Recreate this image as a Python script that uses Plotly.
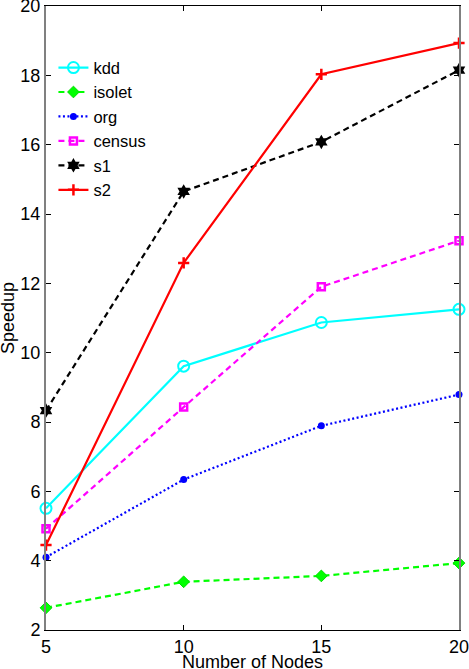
import plotly.graph_objects as go

nodes = [5, 10, 15, 20]
kdd = [5.51, 9.61, 10.87, 11.25]
isolet = [2.64, 3.39, 3.56, 3.93]
org = [4.10, 6.34, 7.89, 8.79]
census = [4.92, 8.43, 11.90, 13.23]
s1 = [8.33, 14.65, 16.08, 18.15]
s2 = [4.45, 12.59, 18.03, 18.93]

x_ticks = [5, 10, 15, 20]
y_ticks = [2, 4, 6, 8, 10, 12, 14, 16, 18, 20]

series = [
    ("kdd", kdd, "#00FFFF", "solid", dict(symbol="circle-open", size=11, line=dict(width=2, color="#00FFFF"))),
    ("isolet", isolet, "#00FF00", "6px,4px", dict(symbol="diamond", size=9, color="#00FF00", line=dict(width=1, color="#00DD00"))),
    ("org", org, "#0000FF", "2px,2.5px", dict(symbol="circle", size=7, color="#0000FF")),
    ("census", census, "#FF00FF", "6px,4px", dict(symbol="square-open", size=7, line=dict(width=2.5, color="#FF00FF"))),
    ("s1", s1, "#000000", "6px,4px", dict(symbol="hexagram", size=11, color="#000000")),
    ("s2", s2, "#FF0000", "solid", dict(symbol="cross-thin", size=8, line=dict(width=2.5, color="#FF0000"))),
]

fig = go.Figure()
for name, vals, color, dash, marker in series:
    fig.add_trace(go.Scatter(
        x=nodes, y=vals, name=name, mode="lines+markers",
        line=dict(color=color, width=2.2, dash=dash),
        marker=marker, cliponaxis=False,
    ))

font = "Liberation Sans, Arial, sans-serif"
fig.update_layout(
    width=469, height=669,
    margin=dict(l=46, r=10, t=6, b=39),
    paper_bgcolor="white", plot_bgcolor="white",
    font=dict(family=font, size=18, color="black"),
    showlegend=True,
    legend=dict(x=0.018, y=0.929, xanchor="left", yanchor="top",
                bgcolor="rgba(0,0,0,0)", font=dict(size=16.5), itemwidth=30,
                tracegroupgap=0),
    xaxis=dict(range=[5, 20], tickvals=x_ticks, ticktext=[str(v) for v in x_ticks],
               ticks="inside", ticklen=5, tickcolor="black", showgrid=False, zeroline=False,
               showline=True, linecolor="black", linewidth=1, mirror="ticks",
               automargin=False, ticklabeloverflow="allow", tickfont=dict(size=18)),
    yaxis=dict(range=[2, 20], tickvals=y_ticks, ticktext=[str(v) for v in y_ticks],
               ticks="inside", ticklen=5, tickcolor="black", showgrid=False, zeroline=False,
               showline=True, linecolor="#808080", linewidth=2, mirror="ticks",
               automargin=False, ticklabeloverflow="allow", tickfont=dict(size=18)),
    annotations=[
        dict(text="Number of Nodes", xref="paper", yref="paper", x=0.5, y=-0.052,
             xanchor="center", yanchor="middle", showarrow=False, font=dict(size=18)),
        dict(text="Speedup", xref="paper", yref="paper", x=-0.092, y=0.5, textangle=-90,
             xanchor="center", yanchor="middle", showarrow=False, font=dict(size=18)),
    ],
)
fig.write_html("out.html", config={"displayModeBar": False},
               post_script="document.body.style.margin='0';document.body.style.overflow='hidden';")
